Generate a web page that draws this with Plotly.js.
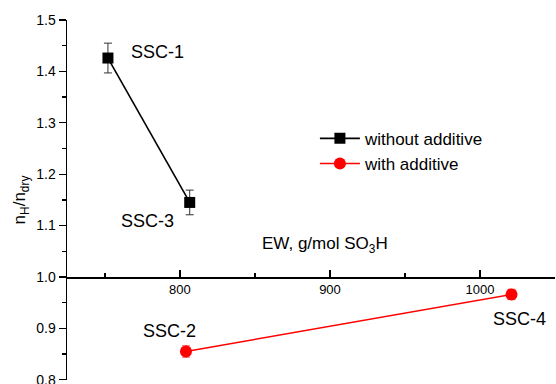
<!DOCTYPE html>
<html>
<head>
<meta charset="utf-8">
<script src="https://cdn.plot.ly/plotly-3.0.1.min.js"></script>
<style>html,body{margin:0;padding:0;background:#fff;}#chart{width:556px;height:384px;}</style>
</head>
<body>
<div id="chart"></div>
<script>
// Data
var noAddLabels = ["SSC-1", "SSC-3"];
var noAddEW = [752, 806.5];
var noAddN = [1.426, 1.145];
var noAddErr = [0.029, 0.024];

var addLabels = ["SSC-2", "SSC-4"];
var addEW = [804, 1021];
var addN = [0.855, 0.966];
var addErr = [0.011, 0.010];

var xTickVals = [800, 900, 1000];
var yTickVals = [0.8, 0.9, 1.0, 1.1, 1.2, 1.3, 1.4, 1.5];

// label offsets in pixels (style, not data)
var noAddShift = [[50, 6], [-42, -19]];
var addShift = [[-16, 20], [8, -25]];

var font = "Arial, 'Liberation Sans', sans-serif";

var traces = [
  {
    x: noAddEW, y: noAddN, name: "without additive", type: "scatter", mode: "lines+markers",
    line: {color: "#000", width: 1.6},
    marker: {symbol: "square", size: 11, color: "#000"},
    error_y: {type: "data", array: noAddErr, visible: true, color: "#333", thickness: 1, width: 4}
  },
  {
    x: addEW, y: addN, name: "with additive", type: "scatter", mode: "lines+markers",
    line: {color: "#ff0000", width: 1.6},
    marker: {symbol: "circle", size: 12, color: "#ff0000"},
    error_y: {type: "data", array: addErr, visible: true, color: "#ff4444", thickness: 1, width: 4}
  }
];

var ann = [];
noAddLabels.forEach(function (t, i) {
  ann.push({x: noAddEW[i], y: noAddN[i], xref: "x", yref: "y", text: t, showarrow: false,
    xshift: noAddShift[i][0], yshift: noAddShift[i][1], font: {family: font, size: 18, color: "#000"}});
});
addLabels.forEach(function (t, i) {
  ann.push({x: addEW[i], y: addN[i], xref: "x", yref: "y", text: t, showarrow: false,
    xshift: addShift[i][0], yshift: addShift[i][1], font: {family: font, size: 18, color: "#000"}});
});
ann.push({x: 0.528, y: 0.375, xref: "paper", yref: "paper", text: "EW, g/mol SO<sub>3</sub>H",
  showarrow: false, font: {family: font, size: 17, color: "#000"}});

var yMin = 0.8, yMax = 1.5;
var layout = {
  width: 556, height: 384,
  margin: {l: 67, r: 1, t: 20, b: 4},
  paper_bgcolor: "#fff", plot_bgcolor: "#fff",
  font: {family: font, size: 13, color: "#000"},
  showlegend: true,
  legend: {x: 0.508, y: 0.72, xanchor: "left", yanchor: "top", bgcolor: "rgba(0,0,0,0)",
    font: {family: font, size: 17, color: "#000"}, tracegroupgap: 0, itemwidth: 40},
  xaxis: {
    range: [724.7, 1050], anchor: "free", position: (1.0 - yMin) / (yMax - yMin),
    tickmode: "array", tickvals: xTickVals, ticks: "inside", ticklen: 7, tickwidth: 1.3, tickcolor: "#000",
    minor: {dtick: 50, tick0: 750, ticks: "inside", ticklen: 4, tickwidth: 1.3, tickcolor: "#000"},
    showline: true, linecolor: "#000", linewidth: 1.5, showgrid: false, zeroline: false,
    tickfont: {family: font, size: 13}
  },
  yaxis: {
    range: [yMin - 0.0005, yMax], tickmode: "array", tickvals: yTickVals,
    ticktext: yTickVals.map(function (v) { return v.toFixed(1); }),
    ticklabeloverflow: "allow",
    ticks: "outside", ticklen: 7, tickwidth: 1.3, tickcolor: "#000",
    minor: {dtick: 0.05, tick0: 0.8, ticks: "outside", ticklen: 4, tickwidth: 1.3, tickcolor: "#000"},
    showline: true, linecolor: "#000", linewidth: 1.5, showgrid: false, zeroline: false,
    tickfont: {family: font, size: 14},
    title: {text: "n<sub>H</sub>/n<sub>dry</sub>", font: {family: font, size: 17}, standoff: 6}
  },
  annotations: ann
};

Plotly.newPlot("chart", traces, layout, {staticPlot: true, displayModeBar: false});
</script>
</body>
</html>
